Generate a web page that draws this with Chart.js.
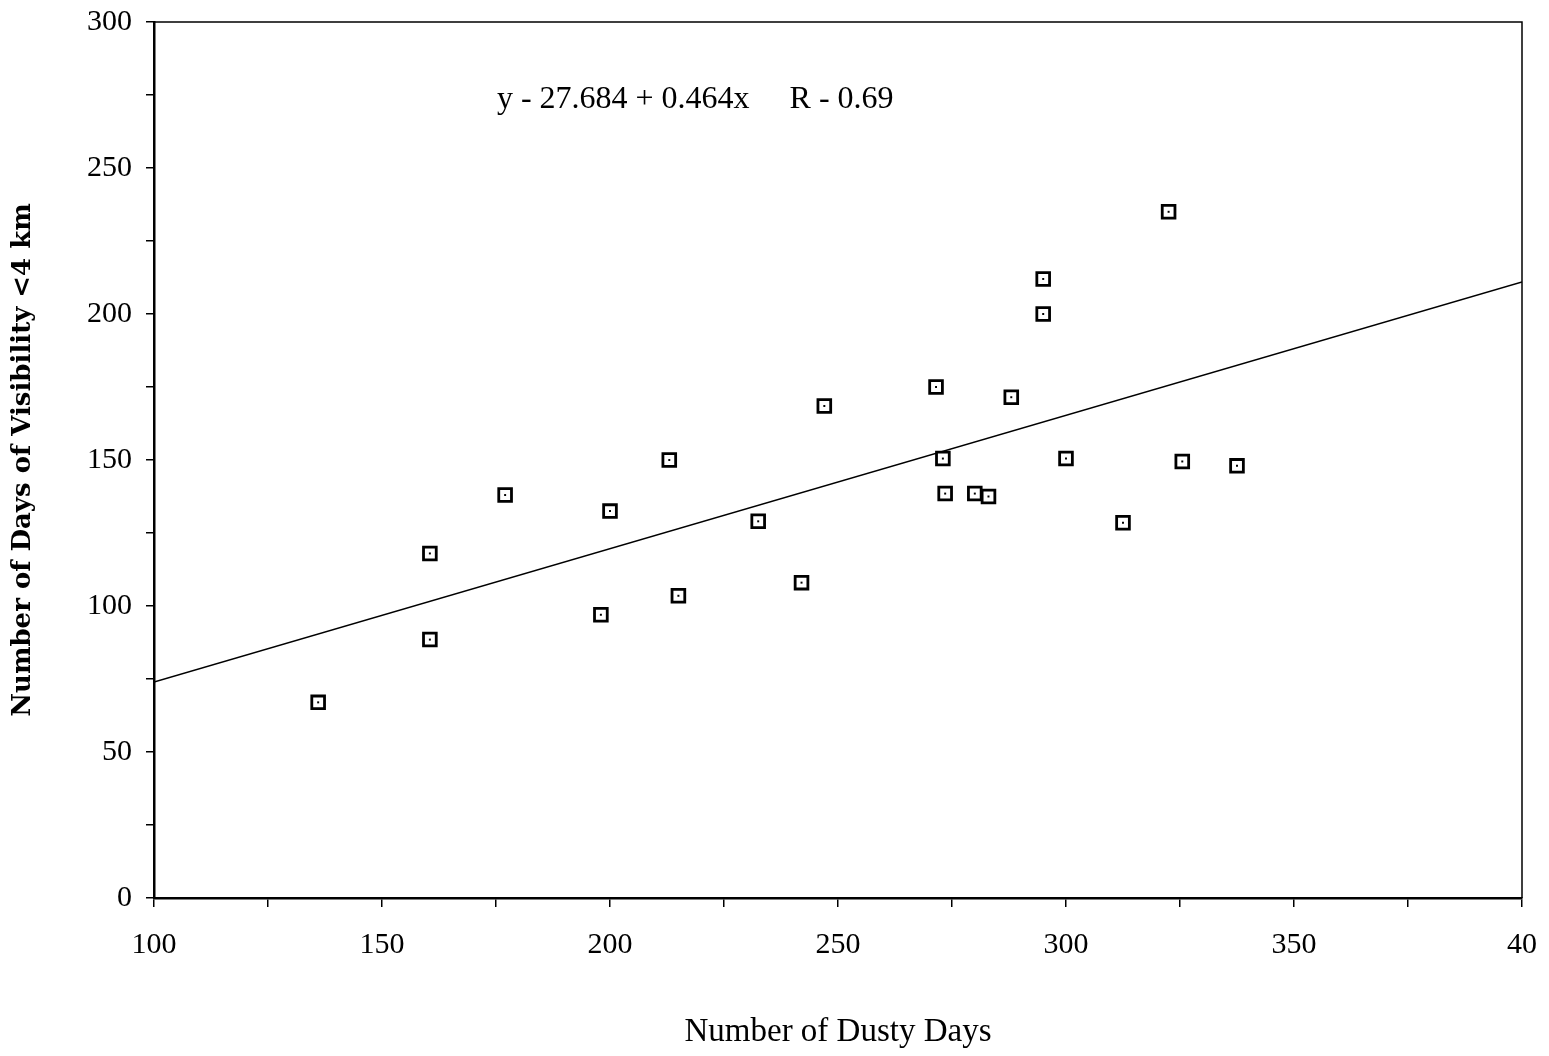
<!DOCTYPE html>
<html>
<head>
<meta charset="utf-8">
<script src="https://cdn.jsdelivr.net/npm/chart.js@4"></script>
<style>
  html, body { margin: 0; padding: 0; background: #fff; }
  #wrap { width: 1549px; height: 1056px; }
</style>
</head>
<body>
<div id="wrap"><canvas id="dustChart"></canvas></div>
<script>
// dusty days (x) vs days of visibility < 4 km (y)
const dustyDays = [136, 160.5, 160.5, 177, 198, 200, 213, 215, 232.5, 242, 247, 271.5, 273, 273.5, 280, 283, 288, 295, 295, 300, 312.5, 322.5, 325.5, 337.5];
const lowVisDays = [67, 118, 88.5, 138, 97, 132.5, 150, 103.5, 129, 108, 168.5, 175, 150.5, 138.5, 138.5, 137.5, 171.5, 212, 200, 150.5, 128.5, 235, 149.5, 148];

// regression line ends
const fitX = [100, 400];
const fitY = [74, 211];

const xTicks = [100, 150, 200, 250, 300, 350, 400];
const xTickLabels = ['100', '150', '200', '250', '300', '350', '40'];
const yTicks = [0, 50, 100, 150, 200, 250, 300];

const equationText = 'y - 27.684 + 0.464x     R - 0.69';

const serif = "'Liberation Serif', 'DejaVu Serif', serif";

const points = dustyDays.map((x, i) => ({ x, y: lowVisDays[i] }));
const fitLine = fitX.map((x, i) => ({ x, y: fitY[i] }));

// frame + equation text
const framePlugin = {
    id: 'frame',
    afterDraw(chart) {
        const { ctx, chartArea: a, scales } = chart;
        ctx.save();
        ctx.strokeStyle = '#000';
        ctx.lineWidth = 1.5;
        ctx.beginPath();
        ctx.moveTo(a.left, a.top);
        ctx.lineTo(a.right, a.top);
        ctx.lineTo(a.right, a.bottom);
        ctx.stroke();

        ctx.font = "32px " + serif;
        ctx.fillStyle = '#000';
        ctx.textAlign = 'left';
        ctx.textBaseline = 'middle';
        ctx.fillText(equationText, scales.x.getPixelForValue(175.2), scales.y.getPixelForValue(273.5));
        ctx.restore();
    }
};

new Chart(document.getElementById('dustChart'), {
    type: 'scatter',
    data: {
        datasets: [
            {
                label: 'fit',
                type: 'line',
                data: fitLine,
                borderColor: '#000',
                borderWidth: 1.5,
                pointRadius: 0,
                fill: false,
                order: 3
            },
            {
                label: 'stations',
                data: points,
                pointStyle: 'rect',
                pointRadius: 9,
                pointBackgroundColor: '#fff',
                pointBorderColor: '#000',
                pointBorderWidth: 2.8,
                order: 2
            },
            {
                label: 'dots',
                data: points,
                pointStyle: 'rect',
                pointRadius: 1.4,
                pointBackgroundColor: '#000',
                pointBorderWidth: 0,
                order: 1
            }
        ]
    },
    options: {
        responsive: true,
        maintainAspectRatio: false,
        animation: false,
        layout: { padding: { top: 22, right: 27, left: 0, bottom: 0 } },
        scales: {
            x: {
                type: 'linear',
                min: 100,
                max: 400,
                afterFit: s => {
                    s.height = 158;
                    s.paddingLeft = 0;
                    s.paddingRight = 0;
                },
                afterBuildTicks: s => {
                    const t = [];
                    for (let v = 100; v <= 400; v += 25) t.push({ value: v });
                    s.ticks = t;
                },
                ticks: {
                    autoSkip: false,
                    maxRotation: 0,
                    padding: 20,
                    color: '#000',
                    font: { family: serif, size: 30 },
                    callback: v => {
                        const i = xTicks.indexOf(v);
                        return i >= 0 ? xTickLabels[i] : '';
                    }
                },
                grid: { drawOnChartArea: false, tickLength: 9, color: '#000', lineWidth: 1.5 },
                border: { color: '#000', width: 2.5 },
                title: {
                    display: true,
                    text: 'Number of Dusty Days',
                    color: '#000',
                    font: { family: serif, size: 33 },
                    padding: { top: 0, bottom: 4 }
                }
            },
            y: {
                type: 'linear',
                min: 0,
                max: 300,
                afterFit: s => {
                    s.width = 154;
                    s.paddingTop = 0;
                    s.paddingBottom = 0;
                },
                afterBuildTicks: s => {
                    const t = [];
                    for (let v = 0; v <= 300; v += 25) t.push({ value: v });
                    s.ticks = t;
                },
                ticks: {
                    autoSkip: false,
                    padding: 14,
                    color: '#000',
                    font: { family: serif, size: 30 },
                    callback: v => yTicks.includes(v) ? String(v) : ''
                },
                grid: { drawOnChartArea: false, tickLength: 8, color: '#000', lineWidth: 1.5 },
                border: { color: '#000', width: 2.5 },
                title: {
                    display: true,
                    text: 'Number of Days of Visibility <4 km',
                    color: '#000',
                    font: { family: "'DejaVu Serif', serif", size: 26, weight: 'bold' },
                    padding: { top: 8, bottom: 0 }
                }
            }
        },
        plugins: {
            legend: { display: false },
            tooltip: { enabled: false }
        }
    },
    plugins: [framePlugin]
});
</script>
</body>
</html>
